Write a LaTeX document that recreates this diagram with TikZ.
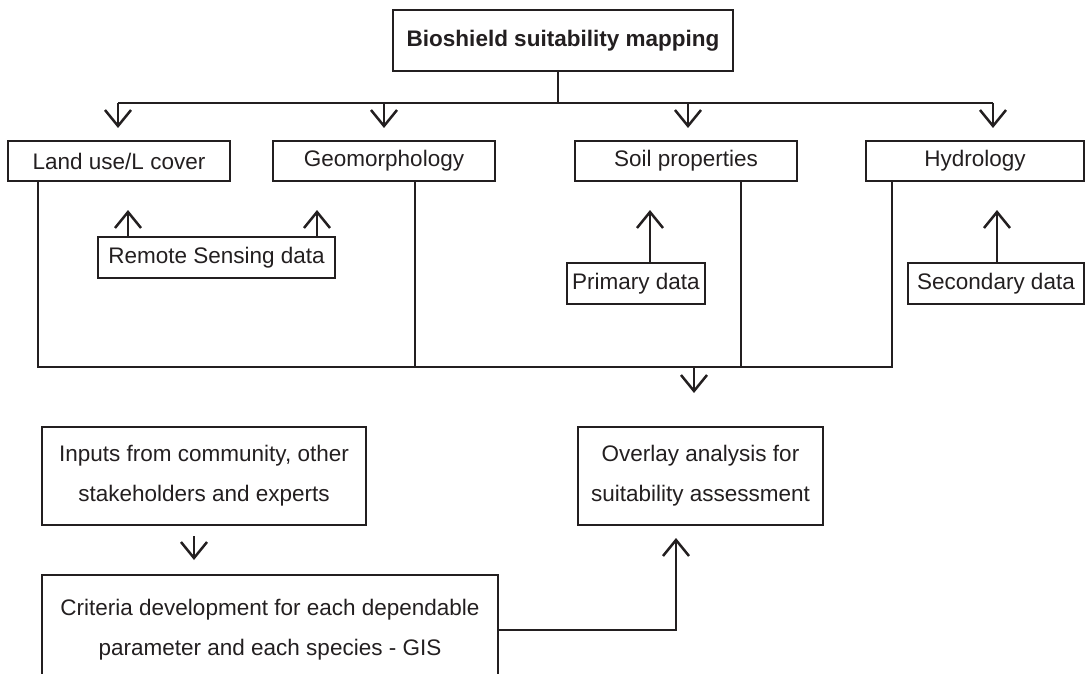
\documentclass[tikz,border=0pt]{standalone}
\usepackage{fontspec}
\setmainfont{Liberation Sans}
\usetikzlibrary{positioning, arrows.meta}
\definecolor{ink}{HTML}{231F20}

\begin{document}
\begin{tikzpicture}[
    x=1pt, y=-1pt,
    box/.style={draw=ink, text=ink, line width=2pt, inner sep=0pt,
      minimum height=40pt, align=center, font=\fontsize{22.5}{40}\selectfont},
    arr/.style={line width=2.5pt, -{Straight Barb[length=16pt, width=26pt, line width=2.5pt]}},
    line width=2pt, draw=ink
]

  \path[use as bounding box, clip] (0,0) rectangle (1089,674);

  % --- TOP ---
  \node[box, minimum width=340pt, minimum height=61pt,
        font=\fontsize{22.5}{40}\selectfont\bfseries] (title) at (563,40.5)
        {Bioshield suitability mapping};

  % --- PARAMETERS ---
  \node[box, minimum width=222pt] (land)  at (119,161) {Land use/L cover};
  \node[box, minimum width=222pt] (geo)   at (384,161) {Geomorphology};
  \node[box, minimum width=222pt] (soil)  at (686,161) {Soil properties};
  \node[box, minimum width=218pt] (hydro) at (975,161) {Hydrology};

  % --- DATA SOURCES ---
  \node[box, minimum width=237pt, minimum height=41pt] (rs)   at (216.5,257.5) {Remote Sensing data};
  \node[box, minimum width=138pt, minimum height=41pt] (prim) at (636,283.5) {Primary data};
  \node[box, minimum width=176pt, minimum height=41pt] (sec)  at (996,283.5) {Secondary data};

  % --- LOWER PART ---
  \node[box, minimum width=324pt, minimum height=98pt] (inputs)  at (204,476)
        {Inputs from community, other\\stakeholders and experts};
  \node[box, minimum width=245pt, minimum height=98pt] (overlay) at (700.5,476)
        {Overlay analysis for\\suitability assessment};
  \node[box, minimum width=456pt, minimum height=110pt] (crit) at (270,630)
        {Criteria development for each dependable\\parameter and each species - GIS};

  \coordinate (hub) at (558,103);
  \coordinate (bus) at (694,367);

  % --- DRAWING EDGES ---

  % top distribution
  \draw (title.south -| hub) -- (hub);
  \draw (hub -| 118,0) -- (hub -| 993,0);
  \draw[arr] (hub -| 118,0) -- ([yshift=12pt]land.north -| 118,0);
  \draw[arr] (hub -| geo) -- ([yshift=12pt]geo.north);
  \draw[arr] (hub -| 688,0) -- ([yshift=12pt]soil.north -| 688,0);
  \draw[arr] (hub -| 993,0) -- ([yshift=12pt]hydro.north -| 993,0);

  % data sources
  \draw[arr] ([xshift=-88.5pt]rs.north) -- ++(0,-26);
  \draw[arr] ([xshift=100.5pt]rs.north) -- ++(0,-26);
  \draw[arr] ([xshift=14pt]prim.north) -- ++(0,-52);
  \draw[arr] ([xshift=1pt]sec.north) -- ++(0,-52);

  % collecting lines
  \draw ([xshift=31pt]land.south west) |- (bus) -| ([xshift=27pt]hydro.south west);
  \draw ([xshift=31pt]geo.south) -- ([xshift=31pt]geo.south |- bus);
  \draw ([xshift=55pt]soil.south) -- ([xshift=55pt]soil.south |- bus);
  \draw[arr] (bus) -- ([yshift=33pt]overlay.north -| bus);

  % lower part
  \draw[arr] ([xshift=-10pt, yshift=-10pt]inputs.south) -- ([xshift=-76pt, yshift=14pt]crit.north);
  \draw[arr] (crit.east) -| ([xshift=-24.5pt, yshift=-12pt]overlay.south);

\end{tikzpicture}
\end{document}
